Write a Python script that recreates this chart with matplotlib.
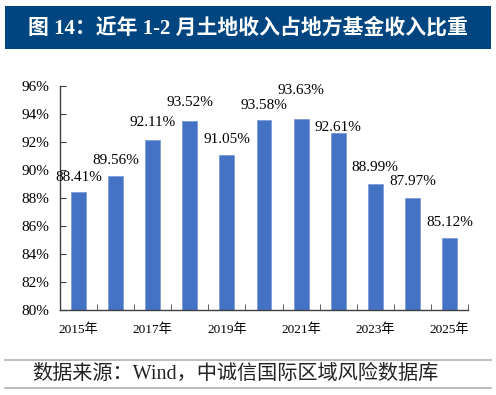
import matplotlib
matplotlib.use("Agg")
import matplotlib.pyplot as plt
from matplotlib.patches import Rectangle
from matplotlib.lines import Line2D
import numpy as np

plt.rcParams['font.family'] = ['Liberation Serif', 'Noto Sans CJK SC']

# data
years = ['2015年', '2016年', '2017年', '2018年', '2019年', '2020年',
         '2021年', '2022年', '2023年', '2024年', '2025年']
ratio = [88.41, 89.56, 92.11, 93.52, 91.05, 93.58, 93.63, 92.61, 88.99, 87.97, 85.12]
yticks = [80, 82, 84, 86, 88, 90, 92, 94, 96]

# label offsets above bar top (pixels), a few were nudged in the original
lab_off = [15, 16, 18, 18, 16, 14, 29, 6, 17, 17, 16]

fig = plt.figure(figsize=(4.96, 3.95), dpi=100)

# title bar
fig.patches.append(Rectangle((5 / 496, 1 - 49 / 395), 486 / 496, 43 / 395,
                             transform=fig.transFigure, facecolor='#00457F',
                             edgecolor='none'))
fig.text(0.5, 1 - 28 / 395, '图 14：近年 1-2 月土地收入占地方基金收入比重',
         ha='center', va='center', color='white', fontsize=15, fontweight='bold')

ax = fig.add_axes([60 / 496, 1 - 310 / 395, 408 / 496, 224 / 395])
x = np.arange(len(years))
ax.bar(x, ratio, width=0.4, color='#4472C4', edgecolor='#7a9cdb', linewidth=0.6)

for i, v in enumerate(ratio):
    ax.annotate('%.2f%%' % v, (x[i], v), xytext=(0, lab_off[i]),
                textcoords='offset pixels', ha='center', va='center', fontsize=11)

ax.set_xlim(-0.5, len(years) - 0.5)
ax.set_ylim(80, 96)
ax.set_yticks(yticks)
ax.set_yticklabels(['%d%%' % t for t in yticks], fontsize=11)
ax.set_xticks(x[::2])
ax.set_xticklabels(years[::2], fontsize=9.5)
ax.set_xticks(np.arange(-0.5, len(years)), minor=True)
ax.tick_params(axis='x', which='major', length=0, pad=10)
ax.tick_params(axis='x', which='minor', direction='in', length=4, color='#404040')
ax.tick_params(axis='y', direction='in', length=4, color='#404040', pad=8)
for s in ['top', 'right']:
    ax.spines[s].set_visible(False)
for s in ['left', 'bottom']:
    ax.spines[s].set_color('#404040')
    ax.spines[s].set_linewidth(1)

# source lines and text
for yy in [360, 388]:
    fig.add_artist(Line2D([5 / 496, 491 / 496], [1 - yy / 395, 1 - yy / 395],
                          transform=fig.transFigure, color='#b0b0b0', linewidth=1.2))
fig.text(32 / 496, 1 - 374 / 395, '数据来源：Wind，中诚信国际区域风险数据库',
         ha='left', va='center', fontsize=14.5, color='#222222')

fig.savefig('out.png', dpi=100)
